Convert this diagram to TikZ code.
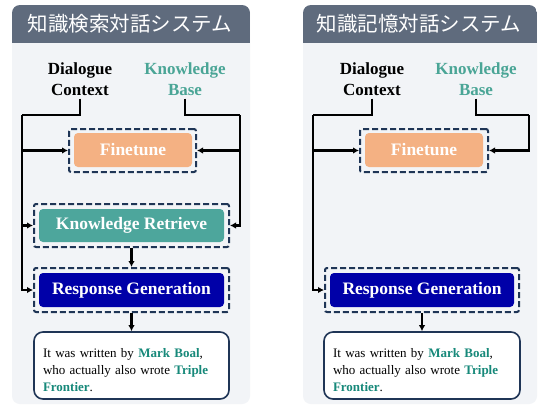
\documentclass[tikz,border=0pt]{standalone}
\usepackage{fontspec}
\setmainfont{Liberation Serif}
\newfontfamily\jpfont{Noto Sans CJK JP}
\usetikzlibrary{arrows.meta}
\definecolor{hdr}{HTML}{5F6B7D}
\definecolor{panelbg}{HTML}{F2F4F7}
\definecolor{peach}{HTML}{F4B183}
\definecolor{kteal}{HTML}{4DA69C}
\definecolor{kbtxt}{HTML}{4AA596}
\definecolor{rgblue}{HTML}{0000A8}
\definecolor{navy}{HTML}{1F3556}
\definecolor{hl}{HTML}{17897A}
\begin{document}
\begin{tikzpicture}[x=1pt,y=-1pt,
  paneltitle/.style={text=white, font=\jpfont\fontsize{20.5}{24}\selectfont, inner sep=0pt},
  lbl/.style={font=\bfseries\fontsize{17}{21}\selectfont, align=center, inner sep=3pt},
  inbox/.style={rounded corners=4pt, text=white, font=\bfseries\fontsize{17.5}{21}\selectfont, inner sep=0pt},
  dashbox/.style={draw=navy, line width=2pt, dash pattern=on 6pt off 3pt, rounded corners=2pt, inner sep=0pt},
  conn/.style={line width=2.2pt},
  arr/.style={conn, -{Latex[length=6pt,width=6.5pt]}},
  outbox/.style={draw=navy, line width=1.6pt, fill=white, rounded corners=9pt, align=left, font=\fontsize{13}{17}\selectfont, inner sep=0pt}
]
\clip (0,0) rectangle (538,405);
\fill[white] (0,0) rectangle (538,405);

% ---------- left panel ----------
\fill[panelbg, rounded corners=8pt] (12,5) rectangle (250,404);
\begin{scope}
  \clip[rounded corners=8pt] (12,5) rectangle (250,404);
  \fill[hdr] (12,5) rectangle (250,43);
\end{scope}
\node[paneltitle] (tL) at (130,24) {知識検索対話システム};

\node[lbl] (dcL) at (80,79) {Dialogue\\Context};
\node[lbl, text=kbtxt] (kbL) at (185,79) {Knowledge\\Base};

\node[inbox, fill=peach, minimum width=118pt, minimum height=34pt] (ftL) at (133,150) {Finetune};
\node[dashbox, minimum width=127pt, minimum height=43pt] (ftLo) at (132.5,150.5) {};

\node[inbox, fill=kteal, minimum width=185pt, minimum height=33pt] (krL) at (131.5,225.5) {Knowledge Retrieve};
\node[dashbox, minimum width=195pt, minimum height=43pt] (krLo) at (131.5,225.5) {};

\node[inbox, fill=rgblue, minimum width=185pt, minimum height=34pt] (rgL) at (131.5,290) {Response Generation};
\node[dashbox, minimum width=195pt, minimum height=44pt] (rgLo) at (131.5,290) {};

\node[outbox, minimum width=195pt, minimum height=67pt, text width=177pt] (outL) at (131.5,365.5)
  {\rule{0pt}{18pt}It was written by \textbf{\color{hl}Mark Boal},\\ who actually also wrote \textbf{\color{hl}Triple}\\ \textbf{\color{hl}Frontier}.};

\coordinate (jL) at (22,115);
\coordinate (jR) at (240,115);
\draw[conn] (dcL.south) |- (jL);
\draw[arr] (jL) |- (rgLo.west);
\draw[arr] (jL |- ftLo.west) -- (ftLo.west);
\draw[arr] (jL |- krLo.west) -- (krLo.west);
\draw[conn] (kbL.south) |- (jR);
\draw[arr] (jR) |- (krLo.east);
\draw[arr] (jR |- ftLo.east) -- (ftLo.east);
\draw[arr] (krLo.south) -- (rgLo.north);
\draw[arr] (rgLo.south) -- (outL.north);

% ---------- right panel ----------
\fill[panelbg, rounded corners=8pt] (303,5) rectangle (537,404);
\begin{scope}
  \clip[rounded corners=8pt] (303,5) rectangle (537,404);
  \fill[hdr] (303,5) rectangle (537,43);
\end{scope}
\node[paneltitle] (tR) at (419,24) {知識記憶対話システム};

\node[lbl] (dcR) at (372,79) {Dialogue\\Context};
\node[lbl, text=kbtxt] (kbR) at (476,79) {Knowledge\\Base};

\node[inbox, fill=peach, minimum width=118pt, minimum height=34pt] (ftR) at (424,150) {Finetune};
\node[dashbox, minimum width=128pt, minimum height=43pt] (ftRo) at (424,150.5) {};

\node[inbox, fill=rgblue, minimum width=184pt, minimum height=34pt] (rgR) at (422,290) {Response Generation};
\node[dashbox, minimum width=194pt, minimum height=44pt] (rgRo) at (422,290) {};

\node[outbox, minimum width=196pt, minimum height=67pt, text width=178pt] (outR) at (422,365.5)
  {\rule{0pt}{18pt}It was written by \textbf{\color{hl}Mark Boal},\\ who actually also wrote \textbf{\color{hl}Triple}\\ \textbf{\color{hl}Frontier}.};

\coordinate (jL2) at (313,115);
\coordinate (jR2) at (529,115);
\draw[conn] (dcR.south) |- (jL2);
\draw[arr] (jL2) |- (rgRo.west);
\draw[arr] (jL2 |- ftRo.west) -- (ftRo.west);
\draw[conn] (kbR.south) |- (jR2);
\draw[arr] (jR2) |- (ftRo.east);
\draw[arr] (rgRo.south) -- (outR.north);
\end{tikzpicture}
\end{document}
